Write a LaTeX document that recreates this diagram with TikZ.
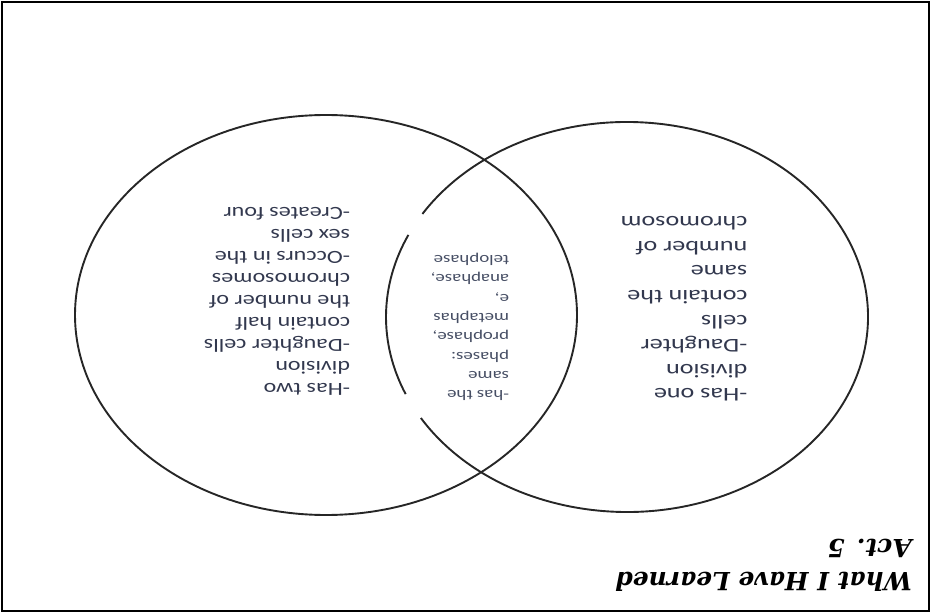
\documentclass[tikz,border=0pt]{standalone}
\usepackage{fontspec}
\setsansfont{Carlito}
\newfontfamily\slabfont{DejaVu Serif}
\definecolor{inkblue}{RGB}{50,56,78}
\definecolor{inkpale}{RGB}{70,78,100}

\begin{document}
\begin{tikzpicture}[
  x=1pt, y=1pt,
  setring/.style={line width=1.9pt, draw=black!85},
  note/.style={rotate=180, align=left, inner sep=0pt, text=inkblue, font=\sffamily\fontsize{18.5}{22}\selectfont, xscale=1.3},
  heading/.style={rotate=180, anchor=base west, inner sep=0pt, font=\slabfont\bfseries\itshape\fontsize{25}{30}\selectfont}
]
\useasboundingbox (0,0) rectangle (932,614);
\draw[line width=1.2pt] (2,3) rectangle (929,612);

% the two sets
\coordinate (meiosis) at (326,299);
\coordinate (mitosis) at (627,297);
\draw[setring] (meiosis) ellipse[x radius=251pt, y radius=200pt];
\draw[setring] ([shift={(211.2:241pt and 195pt)}]mitosis)
  arc[start angle=211.2, end angle=508.1, x radius=241pt, y radius=195pt];
\draw[setring] ([shift={(155.1:241pt and 195pt)}]mitosis)
  arc[start angle=155.1, end angle=203.3, x radius=241pt, y radius=195pt];

% what is written in them, upside down
\node[note] (twoside) at (277,313)
  {-Has two\\division\\-Daughter cells\\contain half\\the number of\\chromosomes\\-Occurs in the\\sex cells\\-Creates four};
\node[note, text=inkpale, font=\sffamily\fontsize{14.5}{19.3}\selectfont, xscale=1.0] (bothside) at (470,287)
  {-has the\\same\\phases:\\prophase,\\metaphas\\e,\\anaphase,\\telophase};
\node[note, font=\sffamily\fontsize{19.5}{24.6}\selectfont, xscale=1.03] (oneside) at (684,305)
  {-Has one\\division\\-Daughter\\cells\\contain the\\same\\number of\\chromosom};

\node[heading] (title) at (912,42) {What I Have Learned};
\node[heading] (act) at (912,75) {Act.\hspace{12pt}5};
\end{tikzpicture}
\end{document}
